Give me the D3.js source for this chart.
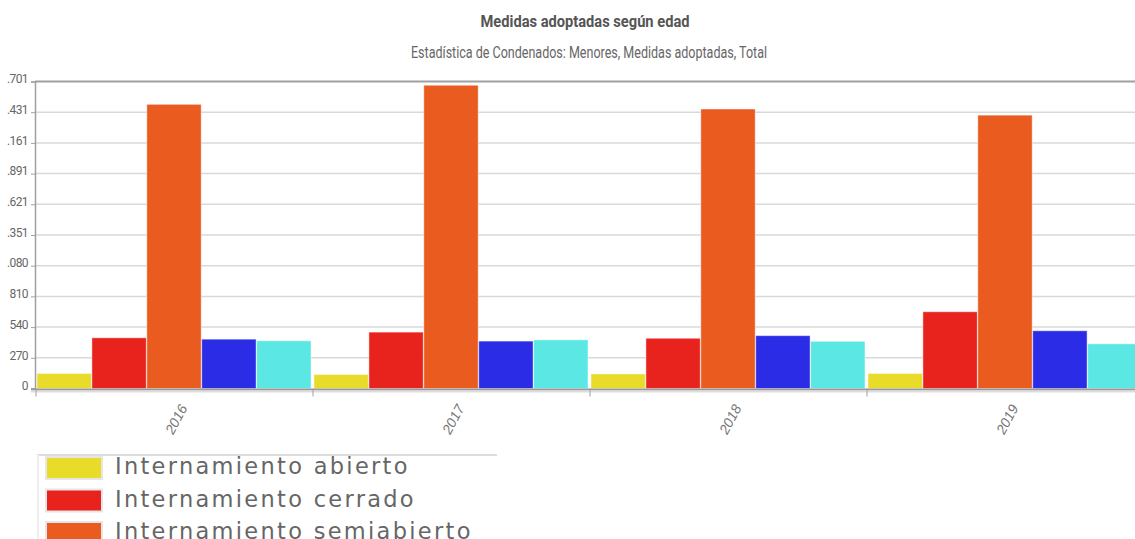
<!DOCTYPE html>
<html>
<head>
<meta charset="utf-8">
<script src="https://cdn.jsdelivr.net/npm/d3@7"></script>
<style>
  body { margin: 0; background: #fff; overflow: hidden; }
  svg { display: block; }
</style>
</head>
<body>
<div id="chart"></div>
<script>
// categories (years)
var years = ["2016", "2017", "2018", "2019"];

// series names and colours
var seriesNames = [
  "Internamiento abierto",
  "Internamiento cerrado",
  "Internamiento semiabierto",
  "Internamiento terapéutico",
  "Libertad vigilada"
];
var seriesColors = ["#E8DB2A", "#E8221C", "#E95B1E", "#2B2CE6", "#5BE8E4"];

// values, one array per series (2016..2019)
var abierto     = [132, 123, 128, 132];
var cerrado     = [446, 496, 442, 675];
var semiabierto = [2500, 2668, 2459, 2405];
var terapeutico = [434, 417, 465, 508];
var libertad    = [420, 428, 415, 393];

// y ticks as printed (leading digit clipped in the original)
var yTickValues = [0, 270.1, 540.2, 810.3, 1080.4, 1350.5, 1620.6, 1890.7, 2160.8, 2430.9, 2701];
var yTickLabels = ["0", "270", "540", "810", ".080", ".351", ".621", ".891", ".161", ".431", ".701"];

var series = [abierto, cerrado, semiabierto, terapeutico, libertad];

var W = 1135, H = 539;
var plotLeft = 36, catWidth = 277, plotTop = 81.5, plotBottom = 388.5;
var narrow = "Roboto, 'Liberation Sans', sans-serif";

var svg = d3.select("#chart").append("svg")
  .attr("width", W)
  .attr("height", H);

// title
svg.append("text")
  .attr("x", 585).attr("y", 27)
  .attr("text-anchor", "middle")
  .attr("textLength", 209)
  .attr("lengthAdjust", "spacingAndGlyphs")
  .style("font-family", narrow)
  .style("font-size", "17px")
  .style("font-weight", "bold")
  .style("fill", "#555")
  .text("Medidas adoptadas según edad");

svg.append("text")
  .attr("x", 589).attr("y", 58)
  .attr("text-anchor", "middle")
  .attr("textLength", 356)
  .attr("lengthAdjust", "spacingAndGlyphs")
  .style("font-family", narrow)
  .style("font-size", "16px")
  .style("fill", "#666")
  .text("Estadística de Condenados: Menores, Medidas adoptadas, Total");

var xScale = d3.scaleBand()
  .domain(years)
  .range([plotLeft, plotLeft + catWidth * years.length])
  .padding(0);

var xInner = d3.scaleBand()
  .domain(d3.range(series.length))
  .range([1, catWidth - 2])
  .paddingInner(0.01);

var yScale = d3.scaleLinear()
  .domain([0, 2701])
  .range([plotBottom, plotTop]);

// grid
svg.append("g")
  .selectAll("line")
  .data(yTickValues.slice(1, -1))
  .enter().append("line")
  .attr("x1", plotLeft).attr("x2", W)
  .attr("y1", function(d) { return yScale(d); })
  .attr("y2", function(d) { return yScale(d); })
  .style("stroke", "#d9d9d9")
  .style("stroke-width", 1.5);

// top border
svg.append("line")
  .attr("x1", plotLeft - 1).attr("x2", W)
  .attr("y1", yScale(2701)).attr("y2", yScale(2701))
  .style("stroke", "#a0a0a0")
  .style("stroke-width", 2);

// bars
var groups = svg.append("g")
  .selectAll("g")
  .data(years)
  .enter().append("g")
  .attr("transform", function(d) { return "translate(" + xScale(d) + ",0)"; });

groups.selectAll("rect")
  .data(function(d, i) { return series.map(function(s, k) { return { k: k, v: s[i] }; }); })
  .enter().append("rect")
  .attr("x", function(d) { return xInner(d.k); })
  .attr("width", xInner.bandwidth())
  .attr("y", function(d) { return yScale(d.v); })
  .attr("height", function(d) { return plotBottom - yScale(d.v); })
  .attr("fill", function(d) { return seriesColors[d.k]; })
  .style("stroke", "rgba(255,255,255,0.45)")
  .style("stroke-width", 1);

// y axis
var yAxis = svg.append("g")
  .attr("transform", "translate(" + (plotLeft - 1) + ",0)")
  .call(d3.axisLeft(yScale)
    .tickValues(yTickValues)
    .tickSize(4)
    .tickPadding(3)
    .tickFormat(function(d, i) { return yTickLabels[i]; }));
yAxis.select(".domain").style("stroke", "#a0a0a0").style("stroke-width", 1.5);
yAxis.selectAll(".tick line").style("stroke", "#a0a0a0");
yAxis.selectAll(".tick text")
  .attr("dy", "0.1em")
  .style("fill", "#666")
  .style("font-size", "12px")
  .style("letter-spacing", "-0.6px")
  .style("font-family", narrow);

// x axis
var xAxis = svg.append("g")
  .attr("transform", "translate(0," + plotBottom + ")")
  .call(d3.axisBottom(xScale).tickSize(0).tickFormat(""));
xAxis.select(".domain").remove();
svg.append("line")
  .attr("x1", plotLeft - 5).attr("x2", W)
  .attr("y1", plotBottom + 1).attr("y2", plotBottom + 1)
  .style("stroke", "#999")
  .style("stroke-width", 2);
svg.append("line")
  .attr("x1", plotLeft - 5).attr("x2", W)
  .attr("y1", plotBottom + 3).attr("y2", plotBottom + 3)
  .style("stroke", "#ddd")
  .style("stroke-width", 2);

// category boundary ticks
svg.append("g")
  .selectAll("line")
  .data(years)
  .enter().append("line")
  .attr("x1", function(d) { return xScale(d); })
  .attr("x2", function(d) { return xScale(d); })
  .attr("y1", plotBottom).attr("y2", plotBottom + 8)
  .style("stroke", "#a0a0a0")
  .style("stroke-width", 1);

// year labels, rotated
svg.append("g")
  .selectAll("text")
  .data(years)
  .enter().append("text")
  .attr("transform", function(d) {
    return "translate(" + (xScale(d) + xScale.bandwidth() / 2 + 9) + "," + (plotBottom + 17) + ") rotate(-62)";
  })
  .attr("text-anchor", "end")
  .attr("dy", "0.35em")
  .style("font-family", "'Liberation Sans', Arial, sans-serif")
  .style("font-style", "italic")
  .style("font-size", "14px")
  .style("fill", "#777")
  .text(function(d) { return d; });

// legend
var legend = svg.append("g");
legend.append("line")
  .attr("x1", 37).attr("x2", 497)
  .attr("y1", 455).attr("y2", 455)
  .style("stroke", "#ddd")
  .style("stroke-width", 2);
legend.append("line")
  .attr("x1", 38).attr("x2", 38)
  .attr("y1", 455).attr("y2", H)
  .style("stroke", "#eee")
  .style("stroke-width", 2);

var item = legend.selectAll(".item")
  .data(seriesNames)
  .enter().append("g")
  .attr("class", "item")
  .attr("transform", function(d, i) { return "translate(0," + (457 + i * 32.5) + ")"; });

item.append("rect")
  .attr("x", 45).attr("y", -1)
  .attr("width", 58).attr("height", 24)
  .attr("fill", "#e6e6e6");
item.append("rect")
  .attr("x", 47).attr("y", 1)
  .attr("width", 54).attr("height", 20)
  .attr("fill", function(d, i) { return seriesColors[i]; });
item.append("text")
  .attr("x", 115).attr("y", 17)
  .style("font-family", "'DejaVu Sans', Verdana, sans-serif")
  .style("font-size", "22.5px")
  .style("letter-spacing", "2.3px")
  .style("fill", "#666")
  .text(function(d) { return d; });
</script>
</body>
</html>
